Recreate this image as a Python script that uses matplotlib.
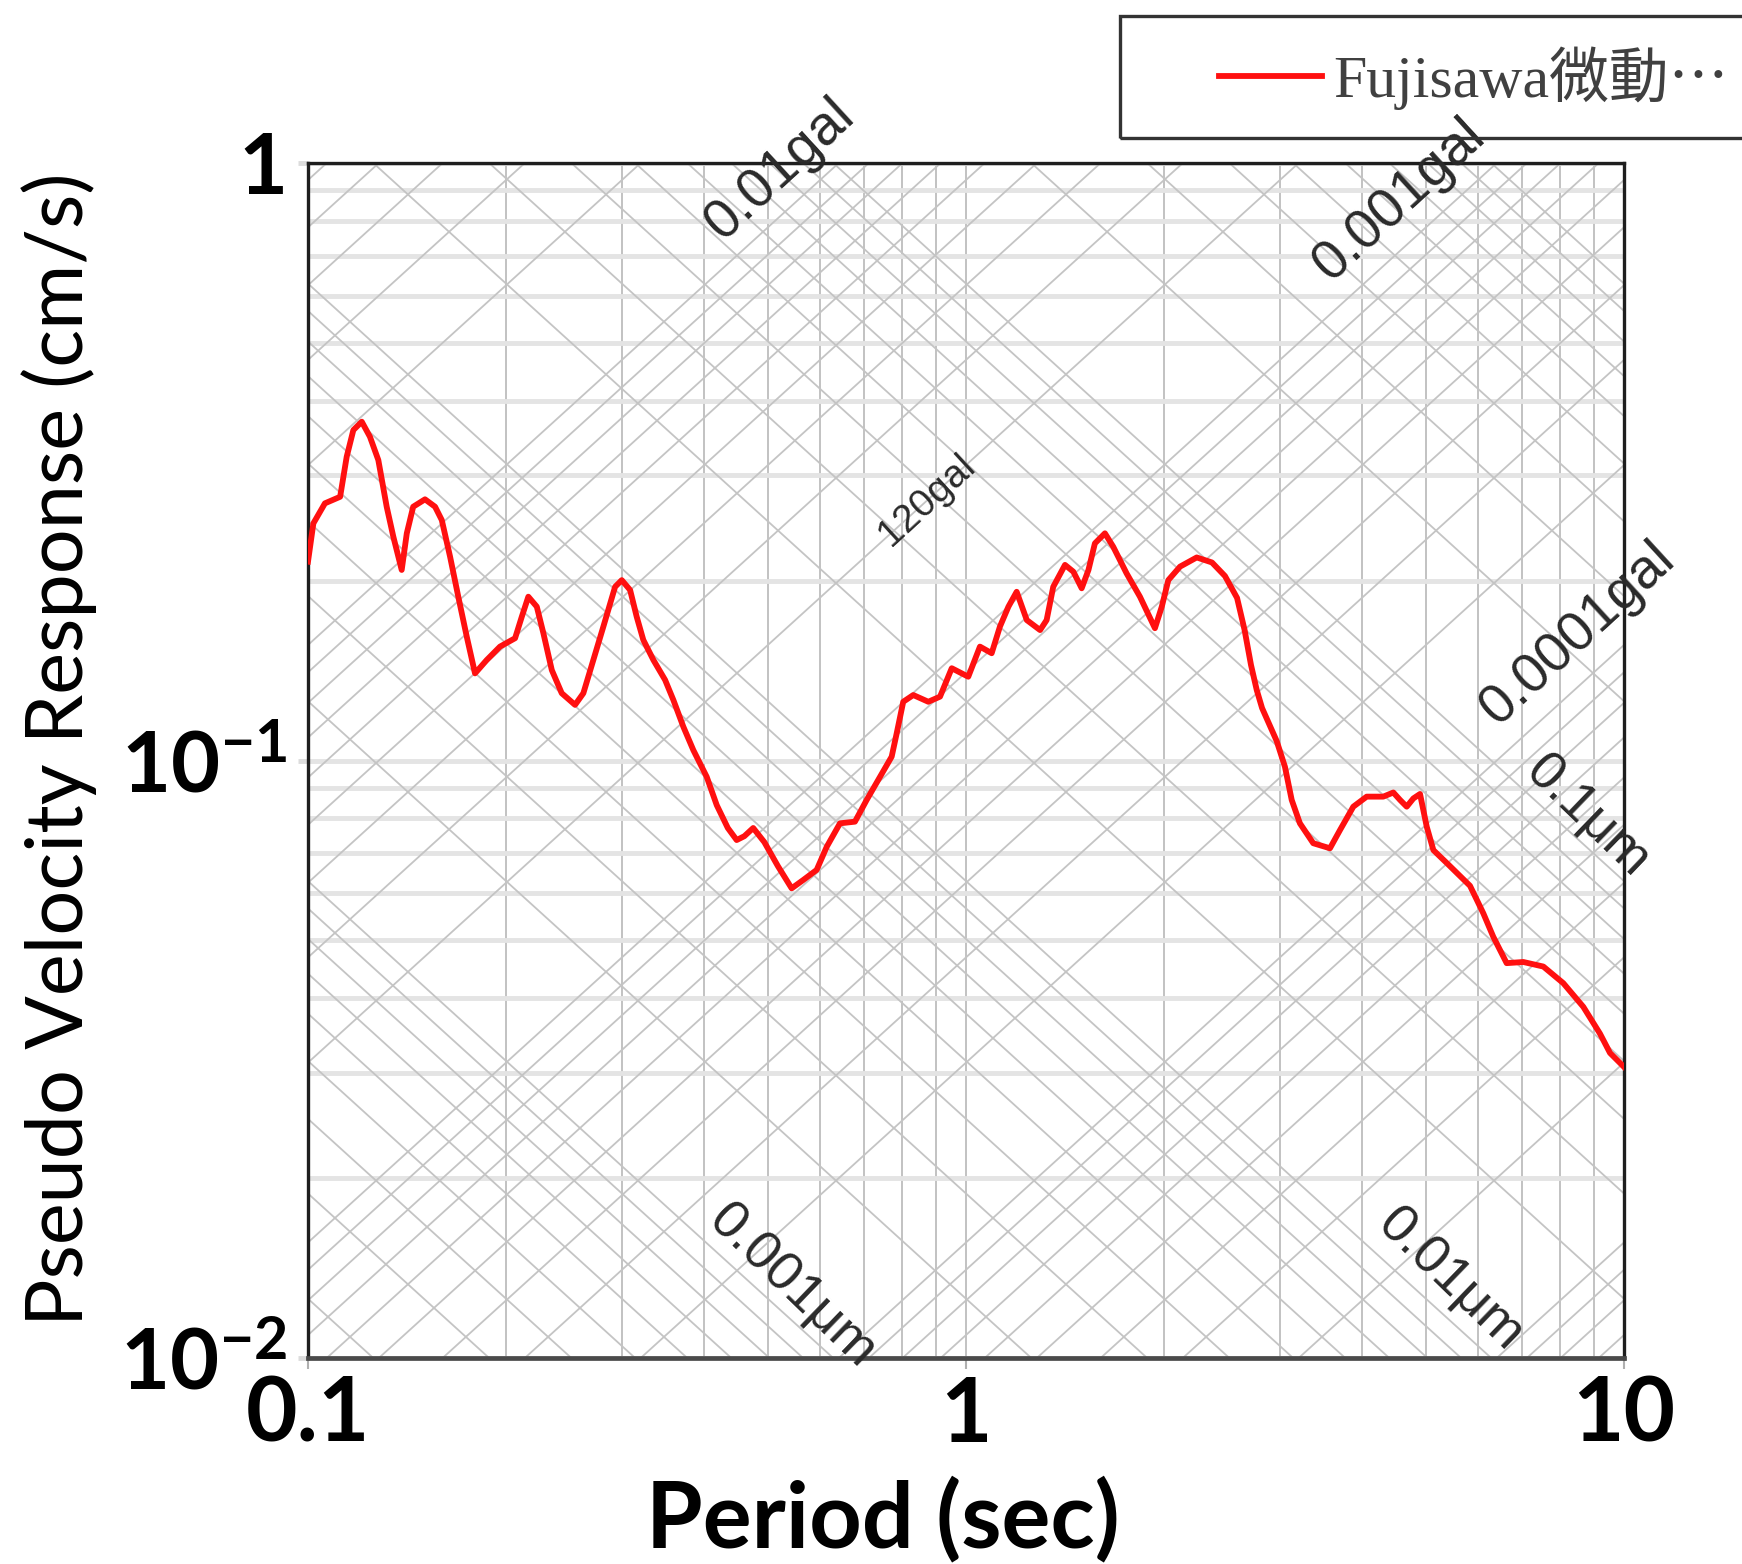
import numpy as np
import matplotlib
matplotlib.use("Agg")
import matplotlib.pyplot as plt
from matplotlib.patches import Rectangle
from matplotlib.lines import Line2D
from matplotlib.ticker import LogLocator, NullFormatter, FixedLocator, FixedFormatter

# ---- pseudo velocity response spectrum (period in s, PSV in cm/s) ----
period = [0.100, 0.1019, 0.1061, 0.1119, 0.1145, 0.1172, 0.1207, 0.1242, 0.1279, 0.1317,
          0.1348, 0.1388, 0.1413, 0.1445, 0.1506, 0.1560, 0.1597, 0.1644, 0.1692, 0.1743,
          0.1794, 0.1869, 0.1958, 0.2064, 0.2113, 0.2162, 0.2227, 0.2279, 0.2347, 0.2430,
          0.2546, 0.2621, 0.2714, 0.2811, 0.2929, 0.2998, 0.3087, 0.3159, 0.3233, 0.3349,
          0.3489, 0.3591, 0.3719, 0.3851, 0.4036, 0.4180, 0.4345, 0.4482, 0.4604, 0.4749,
          0.4938, 0.5176, 0.5433, 0.5658, 0.5930, 0.6142, 0.6434, 0.6780, 0.7064, 0.7400,
          0.7710, 0.7846, 0.8028, 0.8315, 0.8764, 0.9131, 0.9513, 0.9851, 1.008, 1.050,
          1.094, 1.126, 1.160, 1.194, 1.237, 1.296, 1.326, 1.357, 1.414, 1.456,
          1.499, 1.535, 1.570, 1.626, 1.674, 1.754, 1.838, 1.937, 1.984, 2.030,
          2.115, 2.242, 2.365, 2.475, 2.582, 2.651, 2.711, 2.766, 2.818, 2.966,
          3.053, 3.126, 3.217, 3.371, 3.574, 3.702, 3.878, 4.064, 4.307, 4.461,
          4.567, 4.675, 4.785, 4.898, 5.014, 5.132, 5.383, 5.834, 6.112, 6.329,
          6.632, 7.031, 7.541, 8.086, 8.673, 9.194, 9.522, 10.00]
psv = [0.2152, 0.2494, 0.2694, 0.2763, 0.3224, 0.3573, 0.3690, 0.3482, 0.3183, 0.2659,
       0.2369, 0.2084, 0.2400, 0.2659, 0.2736, 0.2659, 0.2526, 0.2194, 0.1880, 0.1611,
       0.1399, 0.1473, 0.1551, 0.1602, 0.1740, 0.1880, 0.1809, 0.1633, 0.1417, 0.1296,
       0.1239, 0.1296, 0.1473, 0.1675, 0.1953, 0.2004, 0.1929, 0.1740, 0.1591, 0.1473,
       0.1364, 0.1263, 0.1139, 0.1041, 0.0939, 0.0842, 0.0771, 0.0736, 0.0747, 0.0771,
       0.0730, 0.0666, 0.0611, 0.0631, 0.0656, 0.0717, 0.0785, 0.0790, 0.0859, 0.0939,
       0.1015, 0.1110, 0.1254, 0.1287, 0.1254, 0.1279, 0.1427, 0.1399, 0.1381, 0.1551,
       0.1512, 0.1675, 0.1809, 0.1916, 0.1718, 0.1653, 0.1718, 0.1953, 0.2125, 0.2070,
       0.1942, 0.2084, 0.2309, 0.2400, 0.2279, 0.2057, 0.1880, 0.1665, 0.1809, 0.2004,
       0.2111, 0.2187, 0.2145, 0.2036, 0.1871, 0.1653, 0.1445, 0.1312, 0.1224, 0.1078,
       0.0976, 0.0859, 0.0785, 0.0727, 0.0713, 0.0765, 0.0837, 0.0870, 0.0870, 0.0884,
       0.0859, 0.0837, 0.0864, 0.0879, 0.0775, 0.0708, 0.0673, 0.0617, 0.0555, 0.0507,
       0.0458, 0.0460, 0.0452, 0.0424, 0.0387, 0.0349, 0.0324, 0.0307]
series_label = "Fujisawa微動⋯"

# ---- axes ----
x_limits = [0.1, 10]
y_limits = [0.01, 1]
x_ticks = [0.1, 1, 10]
x_tick_labels = ["0.1", "1", "10"]
y_ticks = [0.01, 0.1, 1]
y_tick_labels = [r"$\mathbf{10^{-2}}$", r"$\mathbf{10^{-1}}$", "1"]
x_label = "Period (sec)"
y_label = "Pseudo Velocity Response (cm/s)"

# ---- tripartite guide lines ----
grid_multipliers = [1, 2, 3, 4, 5, 6, 7, 8, 9]
acc_decades = [1e-6, 1e-5, 1e-4, 1e-3, 1e-2, 1e-1]   # acceleration levels (g)
disp_decades = [1e-5, 1e-4, 1e-3, 1e-2, 1e-1, 1.0]  # displacement levels (cm)
acc_label_texts = ["0.01gal", "0.001gal", "0.0001gal", "120gal"]
disp_label_texts = ["0.001μm", "0.01μm", "0.1μm"]

G = 980.665

plt.rcParams["mathtext.fontset"] = "custom"
plt.rcParams["mathtext.rm"] = "Lato"
plt.rcParams["mathtext.bf"] = "Lato:bold"

W, H, DPI = 1742, 1564, 100
fig = plt.figure(figsize=(W / DPI, H / DPI), dpi=DPI)
ax = fig.add_axes([308 / W, 1 - 1358 / H, 1316 / W, 1195 / H])
ax.set_xscale("log")
ax.set_yscale("log")
ax.set_xlim(*x_limits)
ax.set_ylim(*y_limits)

# constant acceleration (slope +1) and constant displacement (slope -1) lines
t_ends = np.array(x_limits)
for dec in acc_decades:
    for m in grid_multipliers:
        a = m * dec
        ax.plot(t_ends, a * G * t_ends / (2 * np.pi), color="#c4c4c4", lw=1.3, zorder=1)
for dec in disp_decades:
    for m in grid_multipliers:
        d = m * dec
        ax.plot(t_ends, 2 * np.pi * d / t_ends, color="#c4c4c4", lw=1.3, zorder=1)

# response curve
ax.plot(period, psv, color="#ff1010", lw=4.2, zorder=5, solid_joinstyle="round")

# ticks & grid
ax.xaxis.set_major_locator(FixedLocator(x_ticks))
ax.xaxis.set_major_formatter(FixedFormatter(x_tick_labels))
ax.yaxis.set_major_locator(FixedLocator(y_ticks))
ax.yaxis.set_major_formatter(FixedFormatter(y_tick_labels))
ax.xaxis.set_minor_locator(LogLocator(base=10, subs=range(2, 10)))
ax.yaxis.set_minor_locator(LogLocator(base=10, subs=range(2, 10)))
ax.xaxis.set_minor_formatter(NullFormatter())
ax.yaxis.set_minor_formatter(NullFormatter())
ax.grid(True, which="both", axis="y", color="#e4e4e4", lw=3.5, zorder=0)
ax.grid(True, which="both", axis="x", color="#c2c2c2", lw=1.4, zorder=0)
ax.set_axisbelow(True)
ax.tick_params(which="minor", length=0)
ax.tick_params(axis="x", which="major", length=8, width=1.5, color="#b0b0b0", pad=4)
ax.tick_params(axis="y", which="major", length=7, width=3.5, color="#dcdcdc", pad=8)
for lab in ax.get_xticklabels():
    lab.set_fontsize(64)
for lab in ax.get_yticklabels():
    lab.set_fontsize(61)
for lab in ax.get_xticklabels() + ax.get_yticklabels():
    lab.set_fontfamily("Lato")
    lab.set_fontweight("bold")
    lab.set_color("black")

for side in ["left", "top", "right"]:
    ax.spines[side].set_color("#1e1e1e")
    ax.spines[side].set_linewidth(2.4)
ax.spines["bottom"].set_color("#4a4a4a")
ax.spines["bottom"].set_linewidth(3.4)

ax.set_xlabel(x_label, fontfamily="Lato", fontweight="bold", fontsize=66)
ax.xaxis.set_label_coords(0.437, -0.099)
ax.set_ylabel(y_label, fontfamily="Lato", fontsize=57)
ax.yaxis.set_label_coords(-0.160, 0.509)

# guide-line labels
txt_kw = dict(family="Liberation Sans", color="#2a2a2a", ha="center", va="center",
              rotation_mode="anchor", zorder=6)
acc_pos = [(0.522, 0.977), (4.567, 0.867), (8.51, 0.1634), (0.872, 0.273)]
acc_size = [40, 40, 40, 28]
for s, (tx, ty), fs in zip(acc_label_texts, acc_pos, acc_size):
    ax.text(tx, ty, s, rotation=42.5, fontsize=fs, **txt_kw)
disp_pos = [(0.544, 0.01315), (5.44, 0.01350), (8.787, 0.0804)]
for s, (tx, ty) in zip(disp_label_texts, disp_pos):
    ax.text(tx, ty, s, rotation=-44, fontsize=39, **txt_kw)

# legend
fig.add_artist(Rectangle((1120 / W, 1 - 138 / H), 0.5, 122 / H, transform=fig.transFigure,
                         fill=False, edgecolor="#333333", lw=2.4, zorder=10))
handle = Line2D([], [], color="#ff1010", lw=4.2)
leg = fig.legend([handle], [series_label], loc="center left",
                 bbox_to_anchor=(1219 / W, 1 - 78 / H), bbox_transform=fig.transFigure,
                 frameon=False, borderpad=0, borderaxespad=0, handlelength=1.72,
                 handletextpad=0.2,
                 prop={"family": ["Liberation Serif", "Noto Sans CJK JP", "DejaVu Sans"],
                       "size": 43})
for t in leg.get_texts():
    t.set_color("#404040")

fig.savefig("out.png", dpi=DPI, facecolor="white")
